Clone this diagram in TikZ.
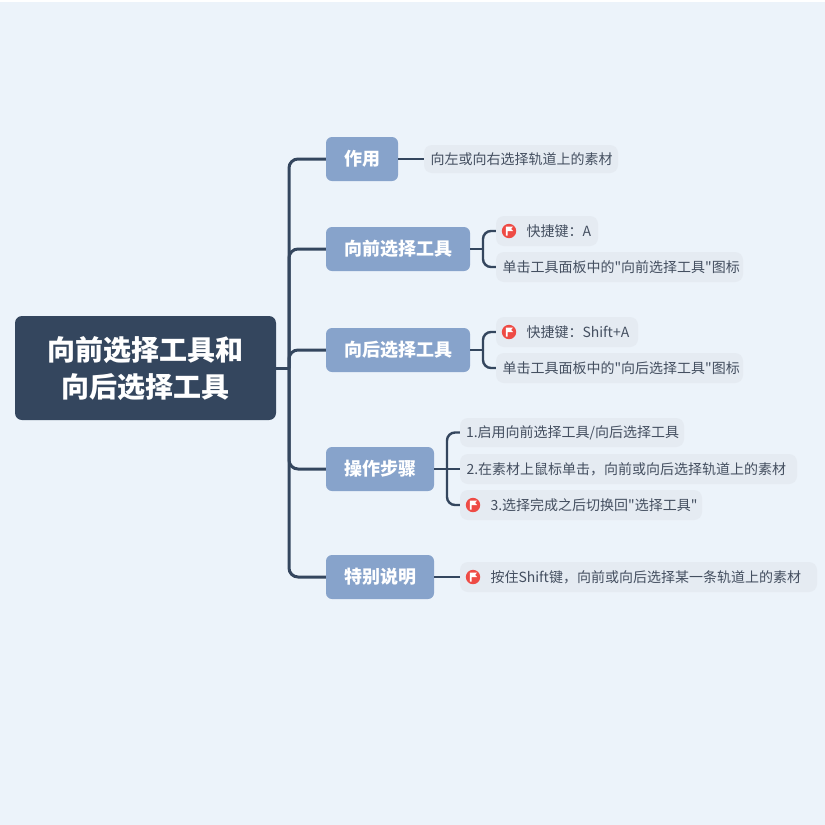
\documentclass[tikz,border=0pt]{standalone}
\usepackage{fontspec}
\setmainfont{Noto Sans CJK SC}[Ligatures=TeXOff]
\definecolor{bgc}{HTML}{ECF3FA}
\definecolor{rootc}{HTML}{34465E}
\definecolor{headc}{HTML}{87A3CB}
\definecolor{pillc}{HTML}{E5EBF2}
\definecolor{textc}{HTML}{444F60}
\definecolor{flagc}{HTML}{EE4B45}
\newcommand{\flagicon}[1]{%
  \fill[flagc] (#1) circle (7.2);
  \fill[white] ($(#1)+(-3.2,-4.4)$) -- ++(7.2,0) -- ++(-1.9,2.2) -- ++(1.9,2.2) -- ++(-5.4,0) -- ++(0,4.6) -- ++(-1.8,0) -- cycle;
}
\newcommand{\midtext}[1]{\raisebox{-0.38em}[0pt][0pt]{#1}}
\newcommand{\headnode}[6]{% name, x0, y0, x1, y1, text
  \node[headbox, minimum width={(#4-#2)*1pt}, minimum height={(#5-#3)*1pt}] (#1) at ({(#2+#4)/2},{(#3+#5)/2}) {\midtext{#6}};
}
\newcommand{\leafnode}[7]{% name, x0, y0, x1, y1, pad, text
  \node[leafbox, minimum height={(#5-#3)*1pt}, text width={(#4-#2)*1pt}] (#1) at ({(#2+#4)/2},{(#3+#5)/2}) {\hspace*{#6pt}\midtext{#7}};
}
\usetikzlibrary{calc}
\tikzset{
  headbox/.style={fill=headc, rounded corners=6, inner sep=0pt, text=white, font=\fontsize{18}{22}\selectfont\bfseries},
  leafbox/.style={fill=pillc, rounded corners=8, inner xsep=0pt, inner ysep=0pt, text=textc, align=flush left, font=\fontsize{14}{18}\selectfont},
  rootbox/.style={fill=rootc, rounded corners=7, inner sep=0pt, text=white, align=center, font=\fontsize{28}{37}\selectfont\bfseries},
  mainline/.style={draw=rootc, line width=3pt, rounded corners=9},
  subline/.style={draw=rootc, line width=2.4pt, rounded corners=8}
}
\begin{document}
\begin{tikzpicture}[x=1pt,y=-1pt]
\useasboundingbox (0,0) rectangle (825,825);
\fill[bgc] (0,0) rectangle (825,825);
\fill[white] (0,0) rectangle (825,1.5);

\node[rootbox, minimum width=261pt, minimum height=104pt] (root) at (145.5,368) {\midtext{向前选择工具和}\\\midtext{向后选择工具}};

\headnode{n1}{326}{137}{398}{181}{作用}
\headnode{n2}{326}{227}{470}{271}{向前选择工具}
\headnode{n3}{326}{328}{470}{372}{向后选择工具}
\headnode{n4}{326}{447}{434}{491}{操作步骤}
\headnode{n5}{326}{555}{434}{599}{特别说明}

\leafnode{a}{424}{145}{618}{173}{6.5}{向左或向右选择轨道上的素材}
\leafnode{ba}{496}{216}{598}{246}{30.5}{快捷键：A}
\leafnode{bb}{496}{252}{743}{282}{6.5}{单击工具面板中的"向前选择工具"图标}
\leafnode{ca}{496}{317}{638}{347}{30.5}{快捷键：Shift+A}
\leafnode{cb}{496}{353}{743}{383}{6.5}{单击工具面板中的"向后选择工具"图标}
\leafnode{da}{460}{418}{684}{447}{6}{1.启用向前选择工具/向后选择工具}
\leafnode{db}{460}{454}{797}{484}{6.5}{2.在素材上鼠标单击，向前或向后选择轨道上的素材}
\leafnode{dc}{460}{490}{702}{520}{30.5}{3.选择完成之后切换回"选择工具"}
\leafnode{e}{460}{562}{817}{592}{30.5}{按住Shift键，向前或向后选择某一条轨道上的素材}

\flagicon{509,231}
\flagicon{509,332}
\flagicon{473,505}
\flagicon{473,577}

\coordinate (tr) at (289,368);
\coordinate (bjb) at (483,249);
\coordinate (bjc) at (483,350);
\coordinate (bjd) at (447,469);
\draw[mainline] (root.east) -- (tr);
\draw[mainline] (tr) |- (n1.west);
\draw[mainline] (tr) |- (n2.west);
\draw[mainline] (tr) |- (n3.west);
\draw[mainline] (tr) |- (n4.west);
\draw[mainline] (tr) |- (n5.west);
\draw[subline] (n1.east) -- (a.west);
\draw[subline] (n2.east) -- (bjb);
\draw[subline] (bjb) |- (ba.west);
\draw[subline] (bjb) |- (bb.west);
\draw[subline] (n3.east) -- (bjc);
\draw[subline] (bjc) |- (ca.west);
\draw[subline] (bjc) |- (cb.west);
\draw[subline] (n4.east) -- (db.west);
\draw[subline] (bjd) |- (da.west);
\draw[subline] (bjd) |- (dc.west);
\draw[subline] (n5.east) -- (e.west);
\end{tikzpicture}
\end{document}
